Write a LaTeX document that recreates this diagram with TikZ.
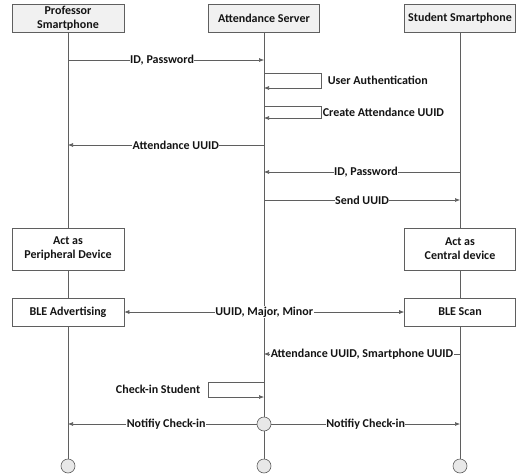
\documentclass[tikz,border=0pt]{standalone}
\usepackage{fontspec}
\setmainfont{Carlito}
\usetikzlibrary{arrows.meta,positioning,calc,backgrounds}
\definecolor{ink}{RGB}{20,20,20}
\definecolor{wire}{RGB}{95,95,95}
\definecolor{headfill}{RGB}{241,241,241}
\definecolor{endfill}{RGB}{232,232,232}
\tikzset{
  every picture/.style={line width=0.6pt, font=\bfseries\fontsize{12}{14}\selectfont},
  box/.style={draw=wire, fill=white, text=ink, align=center, inner sep=2pt, minimum width=112pt, minimum height=28pt},
  head/.style={box, fill=headfill},
  role/.style={box, minimum height=42pt},
  life/.style={draw=wire, line width=0.8pt},
  msg/.style={-{Latex[length=5pt,width=4pt]}, draw=wire},
  both/.style={{Latex[length=5pt,width=4pt]}-{Latex[length=5pt,width=4pt]}, draw=wire},
  lbl/.style={fill=white, text=ink, inner sep=0.5pt},
  dot/.style={circle, draw=wire, fill=endfill, minimum size=14pt, inner sep=0pt},
}

\begin{document}
\begin{tikzpicture}[x=1pt, y=-1pt]
  \useasboundingbox (0,0) rectangle (517,474);
  % lifeline heads
  \node[head] (prof) at (68,18) {Professor\\Smartphone};
  \node[head, minimum width=111pt] (serv) at (264,18.5) {Attendance Server};
  \node[head, minimum width=111pt] (stud) at (460,18.5) {Student Smartphone};
  % role boxes
  \node[role] (periph) at (68,249) {Act as\\Peripheral Device};
  \node[role, minimum width=111pt] (central) at (460,249) {Act as\\Central device};
  \node[box] (adv) at (68,312) {BLE Advertising};
  \node[box, minimum width=111pt] (scan) at (460,312) {BLE Scan};
  % ends
  \node[dot] (pend) at (68,466) {};
  \node[dot] (send) at (264,466) {};
  \node[dot] (cend) at (460,466) {};
  \node[dot] (smid) at (264,424) {};
  \begin{scope}[on background layer]
    \draw[life] (prof) -- (pend);
    \draw[life] (serv) -- (send);
    \draw[life] (stud) -- (cend);
  \end{scope}
  % points on the lifelines
  \foreach \n/\y in {a/60, b/145, c/172, d/200, e/354, f/424} {
    \coordinate (p\n) at (68,\y);
    \coordinate (s\n) at (264,\y);
    \coordinate (c\n) at (460,\y);
  }
  \coordinate (ua1) at (264,73);  \coordinate (ua2) at (321,73);
  \coordinate (ua3) at (321,88);  \coordinate (ua4) at (264,88);
  \coordinate (cu1) at (264,106); \coordinate (cu2) at (321,106);
  \coordinate (cu3) at (321,118); \coordinate (cu4) at (264,118);
  \coordinate (ck1) at (264,382); \coordinate (ck2) at (208,382);
  \coordinate (ck3) at (208,397); \coordinate (ck4) at (264,397);
  % messages
  \draw[msg] (pa) -- node[lbl, pos=0.48] {ID, Password} (sa);
  \draw[msg] (ua1) -- (ua2) -- (ua3) -- (ua4);
  \node[lbl, anchor=west] (uatxt) at (327,80) {User Authentication};
  \draw[msg] (cu1) -- (cu2) -- (cu3) -- (cu4);
  \node[lbl, anchor=west] (cutxt) at (322,112.5) {Create Attendance UUID};
  \draw[msg] (sb) -- node[lbl, pos=0.45] {Attendance UUID} (pb);
  \draw[msg] (cc) -- node[lbl, pos=0.48] {ID, Password} (sc);
  \draw[msg] (sd) -- node[lbl, pos=0.5] {Send UUID} (cd);
  \draw[both] (adv) -- node[lbl] {UUID, Major, Minor} (scan);
  \draw[msg] (ce) -- node[lbl] {Attendance UUID, Smartphone UUID} (se);
  \draw[msg] (ck1) -- (ck2) -- (ck3) -- (ck4);
  \node[lbl, anchor=east] (cktxt) at (201,389) {Check-in Student};
  \draw[msg] (smid) -- node[lbl, pos=0.48] {Notifiy Check-in} (pf);
  \draw[msg] (smid) -- node[lbl, pos=0.5] {Notifiy Check-in} (cf);
\end{tikzpicture}
\end{document}
